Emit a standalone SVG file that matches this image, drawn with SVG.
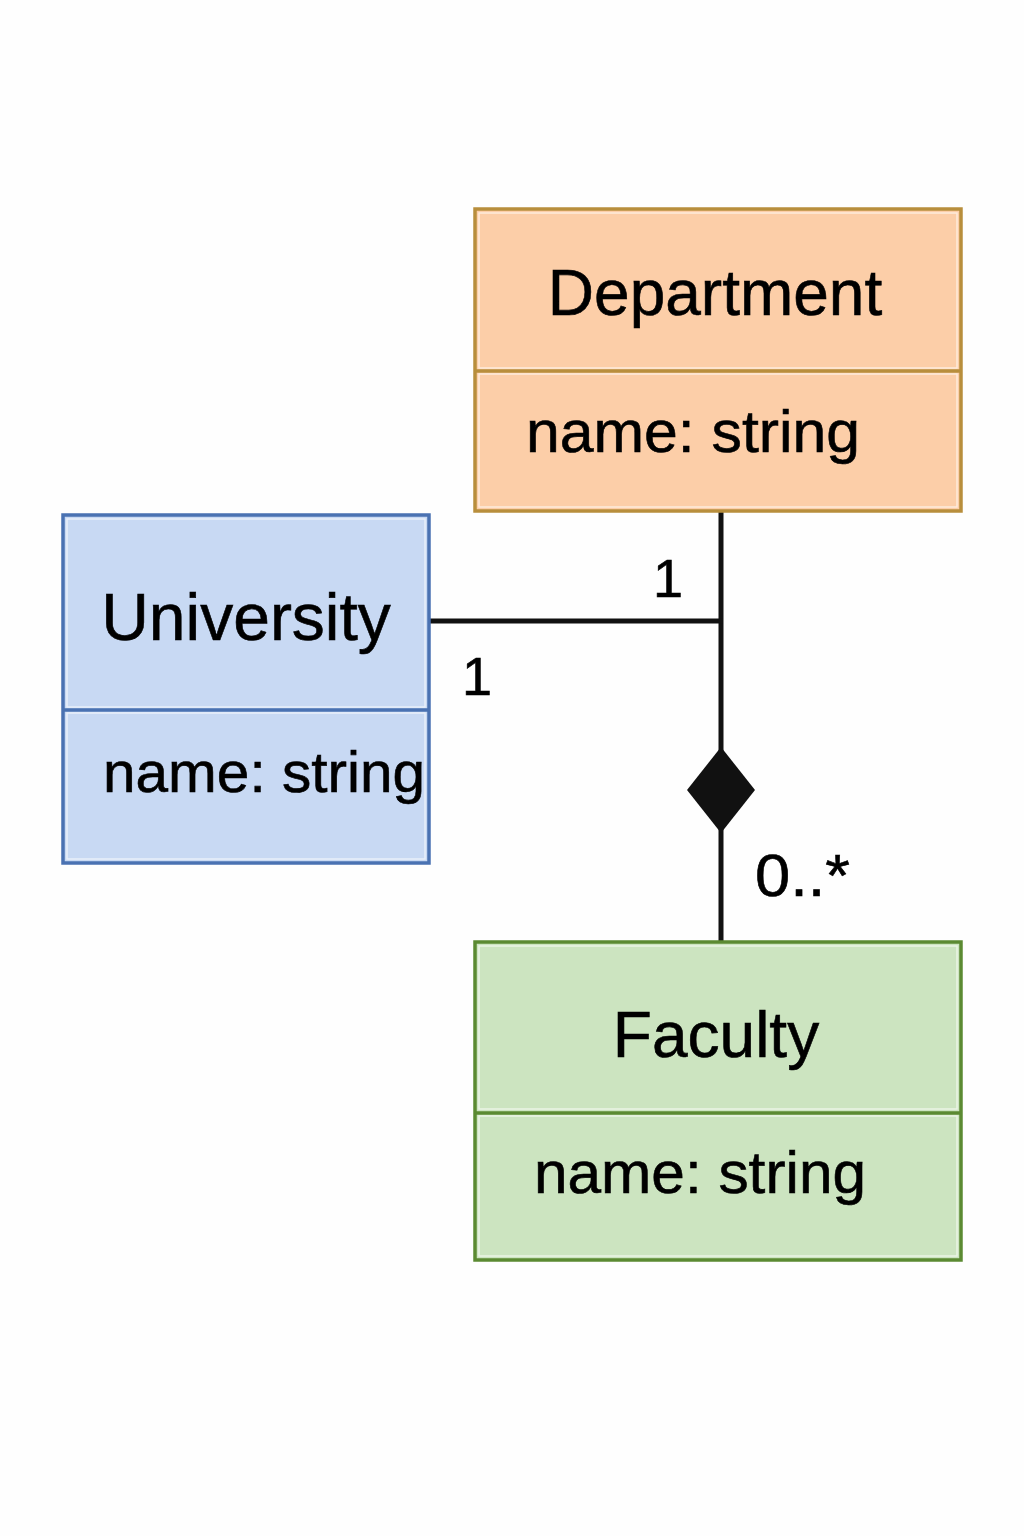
<svg xmlns="http://www.w3.org/2000/svg" width="1024" height="1536" viewBox="0 0 1024 1536">
<style>
text{font-family:"Liberation Sans",Arial,sans-serif;fill:#000;stroke:#000;stroke-width:0.6}
.title{font-size:64px;text-anchor:middle}
.attr{font-size:60px}
.mult{font-size:54px}
.inner{fill:none;stroke:#ffffff;stroke-opacity:0.6;stroke-width:1.5}
.conn{stroke:#111;stroke-width:5;fill:none}
</style>
<rect width="1024" height="1536" fill="#fefefe"/>
<g id="connectors">
<line class="conn" x1="721" y1="512" x2="721" y2="941"/>
<line class="conn" x1="430" y1="621" x2="723" y2="621"/>
<polygon points="721,747 755,790 721,833 687,790" fill="#111"/>
<text class="mult" x="653" y="597">1</text>
<text class="mult" x="462" y="695">1</text>
<text class="mult" x="755" y="896" style="font-size:60px" textLength="95" lengthAdjust="spacingAndGlyphs">0..*</text>
</g>
<g id="department">
<rect x="475" y="209" width="486" height="302" fill="#fccea8" stroke="#b88e3c" stroke-width="3.5"/>
<rect x="479" y="213" width="478" height="155" class="inner"/>
<rect x="479" y="374" width="478" height="133" class="inner"/>
<line x1="475" y1="371" x2="961" y2="371" stroke="#b88e3c" stroke-width="3.5"/>
<text class="title" x="715" y="315">Department</text>
<text class="attr" x="526" y="452" textLength="334" lengthAdjust="spacingAndGlyphs">name: string</text>
</g>
<g id="university">
<rect x="63" y="515" width="366" height="348" fill="#c8d9f3" stroke="#4a72b2" stroke-width="3.5"/>
<rect x="67" y="519" width="358" height="188" class="inner"/>
<rect x="67" y="713" width="358" height="146" class="inner"/>
<line x1="63" y1="710" x2="429" y2="710" stroke="#4a72b2" stroke-width="3.5"/>
<text class="title" x="246" y="640" style="font-size:66px">University</text>
<text class="attr" x="103" y="792" style="font-size:58px" textLength="322" lengthAdjust="spacingAndGlyphs">name: string</text>
</g>
<g id="faculty">
<rect x="475" y="942" width="486" height="318" fill="#cce4c0" stroke="#5b8a32" stroke-width="3.5"/>
<rect x="479" y="946" width="478" height="163" class="inner"/>
<rect x="479" y="1116" width="478" height="140" class="inner"/>
<line x1="475" y1="1113" x2="961" y2="1113" stroke="#5b8a32" stroke-width="3.5"/>
<text class="title" x="716" y="1057" style="font-size:64px">Faculty</text>
<text class="attr" x="534" y="1193" textLength="332" lengthAdjust="spacingAndGlyphs">name: string</text>
</g>
</svg>
